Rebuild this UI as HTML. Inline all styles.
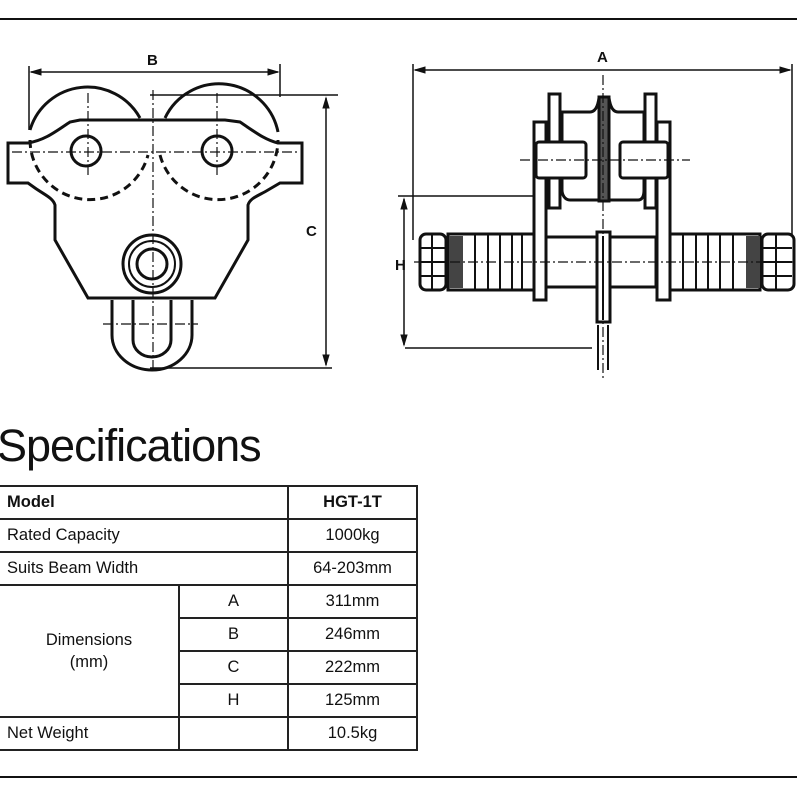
<!DOCTYPE html>
<html><head><style>
html,body{margin:0;padding:0;background:#fff;width:797px;height:797px;overflow:hidden;position:relative;font-family:"Liberation Sans",sans-serif;}
svg{position:absolute;left:0;top:0}
.t{position:absolute;left:-3px;top:420px;font-size:45px;color:#111;letter-spacing:-1px}
table{position:absolute;left:-2px;top:485px;border-collapse:collapse;font-size:16.5px;color:#111}
td{border:2px solid #222;height:31px;padding:0;}
</style></head><body>
<svg width="797" height="797" viewBox="0 0 797 797" fill="none" stroke="#111">
<line x1="0" y1="19" x2="797" y2="19" stroke-width="2"/>
<line x1="0" y1="777" x2="797" y2="777" stroke-width="2"/>
<!-- left drawing -->
<g stroke-width="3">
<line x1="29" y1="66" x2="29" y2="130" stroke-width="1.5"/>
<line x1="280" y1="64" x2="280" y2="97" stroke-width="1.5"/>
<line x1="31" y1="72" x2="278" y2="72" stroke-width="1.5"/>
<path d="M31 72 l10 -3 v6z M278 72 l-10 -3 v6z" fill="#111" stroke-width="1"/>
<line x1="150" y1="95" x2="338" y2="95" stroke-width="1.5"/>
<line x1="150" y1="368" x2="332" y2="368" stroke-width="1.5"/>
<line x1="326" y1="98" x2="326" y2="365" stroke-width="1.5"/>
<path d="M326 98 l-3 10 h6z M326 365 l-3 -10 h6z" fill="#111" stroke-width="1"/>
<path d="M30 130 A60 60 0 0 1 140 118" />
<path d="M165 118 A60 60 0 0 1 278 132" />
<path d="M30 140 A60 60 0 0 0 148 155" stroke-dasharray="8 5"/>
<path d="M160 155 A60 60 0 0 0 278 140" stroke-dasharray="8 5"/>
<path d="M8 143 H28 C45 140 55 132 70 122 L80 120 H225 L240 122 C255 132 265 140 278 143 H302 V183 H280 L268 190 C258 196 250 198 248 205 V240 L215 298 H88 L55 240 V205 C53 198 45 195 35 188 L28 183 H8 Z"/>
<circle cx="86" cy="151" r="15"/>
<circle cx="217" cy="151" r="15"/>
<circle cx="152" cy="264" r="29"/>
<circle cx="152" cy="264" r="23" stroke-width="2"/>
<circle cx="152" cy="264" r="15"/>
<path d="M112 300 V335 A40 35 0 0 0 192 335 V300"/>
<path d="M133 300 V340 A19 17 0 0 0 171 340 V300"/>
<g stroke-width="1.2" stroke-dasharray="10 3 2 3">
<line x1="153" y1="90" x2="153" y2="372"/>
<line x1="12" y1="152" x2="298" y2="152"/>
<line x1="88" y1="93" x2="88" y2="175"/>
<line x1="217" y1="93" x2="217" y2="175"/>
<line x1="103" y1="324" x2="198" y2="324"/>
</g>
</g>
<text x="147" y="65" font-family="Liberation Sans" font-weight="bold" font-size="15" fill="#111" stroke="none">B</text>
<text x="306" y="236" font-family="Liberation Sans" font-weight="bold" font-size="15" fill="#111" stroke="none">C</text>
<!-- right drawing -->
<g stroke-width="3">
<line x1="413" y1="64" x2="413" y2="240" stroke-width="1.5"/>
<line x1="792" y1="64" x2="792" y2="236" stroke-width="1.5"/>
<line x1="415" y1="70" x2="790" y2="70" stroke-width="1.5"/>
<path d="M415 70 l10 -3 v6z M790 70 l-10 -3 v6z" fill="#111" stroke-width="1"/>
<line x1="398" y1="196" x2="560" y2="196" stroke-width="1.5"/>
<line x1="405" y1="348" x2="592" y2="348" stroke-width="1.5"/>
<line x1="404" y1="199" x2="404" y2="345" stroke-width="1.5"/>
<path d="M404 199 l-3 10 h6z M404 345 l-3 -10 h6z" fill="#111" stroke-width="1"/>
<rect x="420" y="234" width="26" height="56" rx="6"/>
<rect x="448" y="234" width="86" height="56"/>
<rect x="449" y="236" width="14" height="52" fill="#444" stroke-width="0"/>
<g stroke-width="2"><line x1="475" y1="234" x2="475" y2="290"/><line x1="488" y1="234" x2="488" y2="290"/><line x1="500" y1="234" x2="500" y2="290"/><line x1="512" y1="234" x2="512" y2="290"/><line x1="522" y1="234" x2="522" y2="290"/>
<line x1="420" y1="248" x2="446" y2="248"/><line x1="420" y1="262" x2="446" y2="262"/><line x1="420" y1="276" x2="446" y2="276"/><line x1="432" y1="234" x2="432" y2="290"/>
<line x1="683" y1="234" x2="683" y2="290"/><line x1="696" y1="234" x2="696" y2="290"/><line x1="708" y1="234" x2="708" y2="290"/><line x1="720" y1="234" x2="720" y2="290"/><line x1="733" y1="234" x2="733" y2="290"/>
<line x1="762" y1="248" x2="792" y2="248"/><line x1="762" y1="262" x2="792" y2="262"/><line x1="762" y1="276" x2="792" y2="276"/><line x1="776" y1="234" x2="776" y2="290"/></g>
<rect x="670" y="234" width="90" height="56"/>
<rect x="746" y="236" width="14" height="52" fill="#444" stroke-width="0"/>
<rect x="762" y="234" width="32" height="56" rx="6"/>
<rect x="546" y="237" width="110" height="50"/>
<rect x="534" y="122" width="12" height="178" fill="#fff"/>
<rect x="657" y="122" width="13" height="178" fill="#fff"/>
<rect x="549" y="94" width="11" height="114" fill="#fff"/>
<rect x="645" y="94" width="11" height="114" fill="#fff"/>
<path d="M562 112 H590 C596 112 598 105 599 98 V200 H570 C565 200 562 195 562 190Z"/>
<path d="M644 112 H618 C612 112 610 105 609 98 V200 H638 C643 200 644 195 644 190Z"/>
<rect x="599" y="97" width="10" height="104" fill="#555"/>
<rect x="536" y="142" width="50" height="36" rx="3" fill="#fff"/>
<rect x="620" y="142" width="48" height="36" rx="3" fill="#fff"/>
<rect x="597" y="232" width="13" height="90" fill="#fff"/>
<line x1="603" y1="236" x2="603" y2="320" stroke-width="2"/>
<path d="M598 325 V370 M608 325 V370" stroke-width="2"/>
<g stroke-width="1.2" stroke-dasharray="10 3 2 3">
<line x1="603" y1="75" x2="603" y2="380"/>
<line x1="414" y1="262" x2="795" y2="262"/>
<line x1="520" y1="160" x2="690" y2="160"/>
</g>
</g>
<text x="597" y="62" font-family="Liberation Sans" font-weight="bold" font-size="15" fill="#111" stroke="none">A</text>
<text x="395" y="270" font-family="Liberation Sans" font-weight="bold" font-size="15" fill="#111" stroke="none">H</text>
</svg>
<div class="t">Specifications</div>
<table>
<tr><td style="width:177px;padding-left:7px;font-weight:bold" colspan="2">Model</td><td style="width:127px;text-align:center;font-weight:bold">HGT-1T</td></tr>
<tr><td colspan="2" style="padding-left:7px">Rated Capacity</td><td style="text-align:center">1000kg</td></tr>
<tr><td colspan="2" style="padding-left:7px">Suits Beam Width</td><td style="text-align:center">64-203mm</td></tr>
<tr><td rowspan="4" style="width:178px;text-align:center;line-height:22px">Dimensions<br>(mm)</td><td style="width:107px;text-align:center">A</td><td style="text-align:center">311mm</td></tr>
<tr><td style="text-align:center">B</td><td style="text-align:center">246mm</td></tr>
<tr><td style="text-align:center">C</td><td style="text-align:center">222mm</td></tr>
<tr><td style="text-align:center">H</td><td style="text-align:center">125mm</td></tr>
<tr><td style="padding-left:7px">Net Weight</td><td></td><td style="text-align:center">10.5kg</td></tr>
</table>
</body></html>
